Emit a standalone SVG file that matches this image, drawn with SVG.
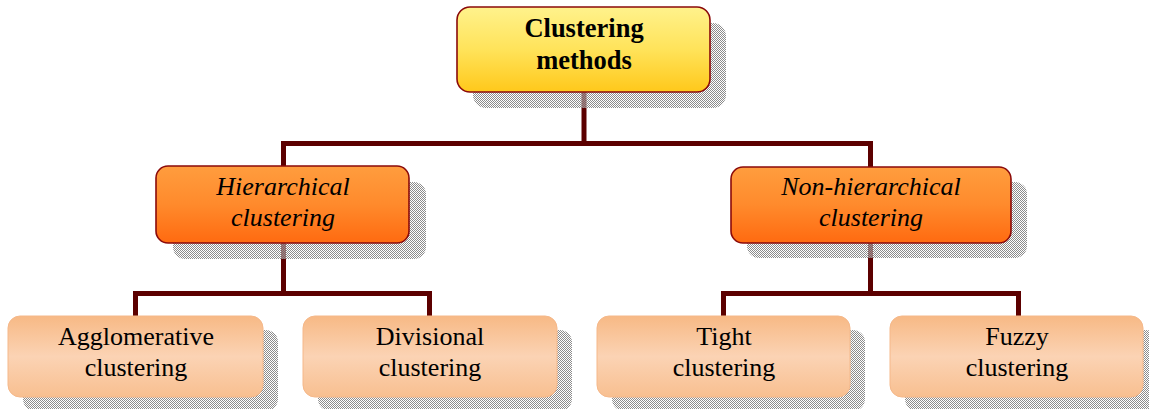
<svg xmlns="http://www.w3.org/2000/svg" width="1149" height="409" viewBox="0 0 1149 409">
  <defs>
    <!-- dithered drop shadow: every other pixel grey, the rest see-through -->
    <pattern id="dots" patternUnits="userSpaceOnUse" width="2" height="2">
      <rect x="0" y="0" width="1" height="1" fill="#8c8c8c"/>
      <rect x="1" y="1" width="1" height="1" fill="#8c8c8c"/>
      <rect x="1" y="0" width="1" height="1" fill="#ffffff" opacity="0.35"/>
      <rect x="0" y="1" width="1" height="1" fill="#ffffff" opacity="0.35"/>
    </pattern>
    <linearGradient id="gTop" x1="0" y1="0" x2="0" y2="1">
      <stop offset="0" stop-color="#fff28c"/>
      <stop offset="0.5" stop-color="#ffe35a"/>
      <stop offset="1" stop-color="#ffc81a"/>
    </linearGradient>
    <linearGradient id="gMid" x1="0" y1="0" x2="0" y2="1">
      <stop offset="0" stop-color="#ff9d3e"/>
      <stop offset="0.5" stop-color="#ff8a2c"/>
      <stop offset="1" stop-color="#ff6a10"/>
    </linearGradient>
    <linearGradient id="gLeaf" x1="0" y1="0" x2="0" y2="1">
      <stop offset="0" stop-color="#f7b985"/>
      <stop offset="0.5" stop-color="#fbd3b4"/>
      <stop offset="1" stop-color="#f8bf90"/>
    </linearGradient>
  </defs>
  <style>
    .link { fill: none; stroke: #5c0000; stroke-width: 5; stroke-linejoin: miter; }
    .shadow { fill: url(#dots); }
    .top { fill: url(#gTop); stroke: #8b0a0a; stroke-width: 1.6; }
    .mid { fill: url(#gMid); stroke: #8b0a0a; stroke-width: 1.6; }
    .leaf { fill: url(#gLeaf); stroke: #f5b88a; stroke-width: 1; }
    text { font-family: "Liberation Serif", "Times New Roman", serif; font-size: 26px; fill: #000; text-anchor: middle; }
    .b { font-weight: bold; font-size: 26.5px; }
    .i { font-style: italic; }
  </style>

  <rect width="1149" height="409" fill="#ffffff"/>

  <!-- tree connectors -->
  <g id="connectors">
    <path class="link" d="M584,92 V143.5 M283.5,143.5 H870.5 M283.5,141 V167 M870.5,141 V167"/>
    <path class="link" d="M283.5,243 V293.5 M135.5,293.5 H429.5 M135.5,291 V316 M429.5,291 V316"/>
    <path class="link" d="M870.5,243 V293.5 M723.5,293.5 H1018.5 M723.5,291 V316 M1018.5,291 V316"/>
  </g>

  <!-- root -->
  <g id="node-root">
    <rect class="shadow" x="473" y="23" width="253" height="85" rx="13"/>
    <rect class="top" x="457" y="7" width="253" height="85" rx="13"/>
    <text class="b" x="584" y="37">Clustering</text>
    <text class="b" x="584" y="69">methods</text>
  </g>

  <!-- second level -->
  <g id="node-hierarchical">
    <rect class="shadow" x="173" y="182" width="253" height="77" rx="12"/>
    <rect class="mid" x="156" y="166" width="253" height="77" rx="12"/>
    <text class="i" x="283" y="195">Hierarchical</text>
    <text class="i" x="283" y="226">clustering</text>
  </g>

  <g id="node-nonhierarchical">
    <rect class="shadow" x="747" y="182" width="280" height="76" rx="12"/>
    <rect class="mid" x="731" y="167" width="280" height="76" rx="12"/>
    <text class="i" x="871" y="195">Non-hierarchical</text>
    <text class="i" x="871" y="226">clustering</text>
  </g>

  <!-- leaves -->
  <g id="node-agglomerative">
    <rect class="shadow" x="23" y="330" width="255" height="81" rx="12"/>
    <rect class="leaf" x="8" y="316" width="255" height="81" rx="12"/>
    <text x="136" y="345">Agglomerative</text>
    <text x="136" y="376">clustering</text>
  </g>

  <g id="node-divisional">
    <rect class="shadow" x="318" y="330" width="254" height="81" rx="12"/>
    <rect class="leaf" x="303" y="316" width="254" height="81" rx="12"/>
    <text x="430" y="345">Divisional</text>
    <text x="430" y="376">clustering</text>
  </g>

  <g id="node-tight">
    <rect class="shadow" x="612" y="330" width="253" height="81" rx="12"/>
    <rect class="leaf" x="597" y="316" width="253" height="81" rx="12"/>
    <text x="724" y="345">Tight</text>
    <text x="724" y="376">clustering</text>
  </g>

  <g id="node-fuzzy">
    <rect class="shadow" x="905" y="330" width="253" height="81" rx="12"/>
    <rect class="leaf" x="890" y="316" width="253" height="81" rx="12"/>
    <text x="1017" y="345">Fuzzy</text>
    <text x="1017" y="376">clustering</text>
  </g>
</svg>
